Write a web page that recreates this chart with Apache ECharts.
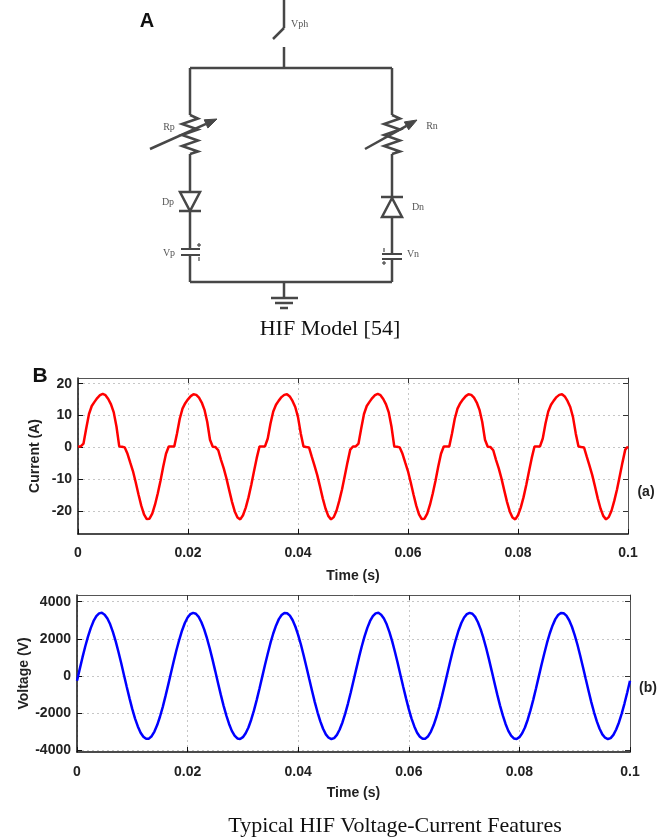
<!DOCTYPE html>
<html>
<head>
<meta charset="utf-8">
<title>HIF model and typical voltage-current features</title>
<script src="https://cdn.jsdelivr.net/npm/echarts@6/dist/echarts.min.js"></script>
<style>
  html, body { margin: 0; padding: 0; background: #fff; }
  #main { width: 671px; height: 840px; }
</style>
</head>
<body>
<div id="main"></div>
<script>
var chart = echarts.init(document.getElementById('main'));

// sample times, ms (0.5 ms grid)
var timeMs = [
  0, 0.5, 1, 1.5, 2, 2.5, 3, 3.5, 4, 4.5, 5, 5.5, 6, 6.5, 7, 7.5, 8, 8.5, 9, 9.5,
  10, 10.5, 11, 11.5, 12, 12.5, 13, 13.5, 14, 14.5, 15, 15.5, 16, 16.5, 17, 17.5, 18, 18.5, 19, 19.5,
  20, 20.5, 21, 21.5, 22, 22.5, 23, 23.5, 24, 24.5, 25, 25.5, 26, 26.5, 27, 27.5, 28, 28.5, 29, 29.5,
  30, 30.5, 31, 31.5, 32, 32.5, 33, 33.5, 34, 34.5, 35, 35.5, 36, 36.5, 37, 37.5, 38, 38.5, 39, 39.5,
  40, 40.5, 41, 41.5, 42, 42.5, 43, 43.5, 44, 44.5, 45, 45.5, 46, 46.5, 47, 47.5, 48, 48.5, 49, 49.5,
  50, 50.5, 51, 51.5, 52, 52.5, 53, 53.5, 54, 54.5, 55, 55.5, 56, 56.5, 57, 57.5, 58, 58.5, 59, 59.5,
  60, 60.5, 61, 61.5, 62, 62.5, 63, 63.5, 64, 64.5, 65, 65.5, 66, 66.5, 67, 67.5, 68, 68.5, 69, 69.5,
  70, 70.5, 71, 71.5, 72, 72.5, 73, 73.5, 74, 74.5, 75, 75.5, 76, 76.5, 77, 77.5, 78, 78.5, 79, 79.5,
  80, 80.5, 81, 81.5, 82, 82.5, 83, 83.5, 84, 84.5, 85, 85.5, 86, 86.5, 87, 87.5, 88, 88.5, 89, 89.5,
  90, 90.5, 91, 91.5, 92, 92.5, 93, 93.5, 94, 94.5, 95, 95.5, 96, 96.5, 97, 97.5, 98, 98.5, 99, 99.5,
  100
];

// fault current, A
var current = [
  // 0 - 16.5 ms
  0.3, 0.3, 1.2, 6, 10.5, 13, 14.3, 15.5, 16.4, 16.8, 16.4, 15.2, 13.5, 11, 6.5, 0.3, 0.2, 0,
  -2, -4.8, -7.5, -11, -14.8, -18.3, -21, -22.5, -22.4, -20.8, -18, -14.5, -10.5, -6, -2, 0.3,
  // 17 - 33 ms
  0.3, 0.3, 4.4, 9, 12.2, 13.9, 15.1, 16.1, 16.7, 16.5, 15.6, 14.1, 11.8, 8, 2.4, 0.2, 0.1,
  -0.9, -3.9, -6.6, -9.8, -13.5, -17.1, -20.1, -22, -22.6, -21.3, -18.9, -15.7, -11.8, -7.5, -3.3, 0.3,
  // 33.5 - 50 ms
  0.3, 0.3, 2.8, 7.5, 11.3, 13.4, 14.7, 15.8, 16.5, 16.7, 16, 14.6, 12.7, 9.5, 4.4, 0.3, 0.1, 0,
  -2.9, -5.7, -8.7, -12.3, -16, -19.2, -21.5, -22.6, -21.9, -19.9, -16.8, -13.2, -9, -4.7, -0.7, 0.3,
  // 50.5 - 66.5 ms
  0.3, 1.2, 6, 10.5, 13, 14.3, 15.5, 16.4, 16.8, 16.4, 15.2, 13.5, 11, 6.5, 0.3, 0.2, 0,
  -2, -4.8, -7.5, -11, -14.8, -18.3, -21, -22.5, -22.4, -20.8, -18, -14.5, -10.5, -6, -2, 0.3,
  // 67 - 83 ms
  0.3, 0.3, 4.4, 9, 12.2, 13.9, 15.1, 16.1, 16.7, 16.5, 15.6, 14.1, 11.8, 8, 2.4, 0.2, 0.1,
  -0.9, -3.9, -6.6, -9.8, -13.5, -17.1, -20.1, -22, -22.6, -21.3, -18.9, -15.7, -11.8, -7.5, -3.3, 0.3,
  // 83.5 - 100 ms
  0.3, 0.3, 2.8, 7.5, 11.3, 13.4, 14.7, 15.8, 16.5, 16.7, 16, 14.6, 12.7, 9.5, 4.4, 0.3, 0.1, 0,
  -2.9, -5.7, -8.7, -12.3, -16, -19.2, -21.5, -22.6, -21.9, -19.9, -16.8, -13.2, -9, -4.7, -0.7, 0.3
];

// phase voltage, V
var voltage = [
  // 0 - 16.5 ms
  -260, 380, 1010, 1600, 2130, 2590, 2960, 3220, 3370, 3400, 3300, 3090, 2780, 2360, 1860, 1290, 680, 40,
  -600, -1210, -1790, -2300, -2720, -3060, -3280, -3390, -3380, -3250, -3000, -2650, -2200, -1680, -1090, -470,
  // 17 - 33 ms
  170, 800, 1410, 1960, 2450, 2850, 3150, 3330, 3400, 3350, 3180, 2890, 2510, 2030, 1490, 890, 260,
  -380, -1010, -1600, -2130, -2590, -2960, -3220, -3370, -3400, -3300, -3090, -2780, -2360, -1860, -1290, -680,
  // 33.5 - 50 ms
  -40, 600, 1210, 1790, 2300, 2720, 3060, 3280, 3390, 3380, 3250, 3000, 2650, 2200, 1680, 1090, 470,
  -170, -800, -1410, -1960, -2450, -2850, -3150, -3330, -3400, -3350, -3180, -2890, -2510, -2030, -1490, -890, -260,
  // 50.5 - 66.5 ms
  380, 1010, 1600, 2130, 2590, 2960, 3220, 3370, 3400, 3300, 3090, 2780, 2360, 1860, 1290, 680, 40,
  -600, -1210, -1790, -2300, -2720, -3060, -3280, -3390, -3380, -3250, -3000, -2650, -2200, -1680, -1090, -470,
  // 67 - 83 ms
  170, 800, 1410, 1960, 2450, 2850, 3150, 3330, 3400, 3350, 3180, 2890, 2510, 2030, 1490, 890, 260,
  -380, -1010, -1600, -2130, -2590, -2960, -3220, -3370, -3400, -3300, -3090, -2780, -2360, -1860, -1290, -680,
  // 83.5 - 100 ms
  -40, 600, 1210, 1790, 2300, 2720, 3060, 3280, 3390, 3380, 3250, 3000, 2650, 2200, 1680, 1090, 470,
  -170, -800, -1410, -1960, -2450, -2850, -3150, -3330, -3400, -3350, -3180, -2890, -2510, -2030, -1490, -890, -260
];

var currentTicks = [-20, -10, 0, 10, 20];
var voltageTicks = [-4000, -2000, 0, 2000, 4000];

function pairs(values) {
  return timeMs.map(function (t, i) { return [t / 1000, values[i]]; });
}

var boldFont = { fontFamily: 'Liberation Sans, Arial, sans-serif', fontWeight: 'bold', fontSize: 14, color: '#222' };
var gridLine = { show: true, lineStyle: { color: '#c6c6c6', width: 1, type: [2, 3] } };
var wire = '#474747';

function plain(v) { return String(v); }

function timeAxis(grid, gap, margin) {
  return {
    gridIndex: grid, type: 'value', position: 'bottom', min: 0, max: 0.1, interval: 0.02,
    name: 'Time (s)', nameLocation: 'middle', nameGap: gap, nameTextStyle: boldFont, nameMoveOverlap: false,
    axisLine: { show: true, onZero: false, lineStyle: { color: '#111', width: 1.5 } },
    axisTick: { show: true, inside: true, length: 5, lineStyle: { color: '#111' } },
    axisLabel: Object.assign({ margin: margin, formatter: plain }, boldFont),
    splitLine: gridLine
  };
}
function topAxis(grid) {
  return {
    gridIndex: grid, type: 'value', position: 'top', min: 0, max: 0.1, interval: 0.02,
    axisLine: { show: true, onZero: false, lineStyle: { color: '#555', width: 1 } },
    axisTick: { show: true, inside: true, length: 5, lineStyle: { color: '#333' } },
    axisLabel: { show: false }, splitLine: { show: false }
  };
}
function valueAxis(grid, min, max, ticks, name, gap) {
  return {
    gridIndex: grid, type: 'value', position: 'left', min: min, max: max,
    name: name, nameLocation: 'middle', nameRotate: 90, nameGap: gap, nameTextStyle: boldFont,
    nameMoveOverlap: false,
    axisLine: { show: true, onZero: false, lineStyle: { color: '#111', width: 1.5 } },
    axisTick: { show: true, inside: true, length: 5, customValues: ticks, lineStyle: { color: '#111' } },
    axisLabel: Object.assign({ margin: 6, customValues: ticks, formatter: plain }, boldFont),
    splitLine: gridLine
  };
}
function rightAxis(grid, min, max, ticks) {
  return {
    gridIndex: grid, type: 'value', position: 'right', min: min, max: max,
    axisLine: { show: true, onZero: false, lineStyle: { color: '#555', width: 1 } },
    axisTick: { show: true, inside: true, length: 5, customValues: ticks, lineStyle: { color: '#333' } },
    axisLabel: { show: false }, splitLine: { show: false }
  };
}

// circuit helpers
function seg(x1, y1, x2, y2, w) {
  return { type: 'line', silent: true, shape: { x1: x1, y1: y1, x2: x2, y2: y2 },
    style: { stroke: wire, lineWidth: w || 2.5 } };
}
function zigzag(cx) {
  var pts = [[cx, 115]], side = 1;
  for (var y = 118.5; y < 153; y += 5.5) { pts.push([cx + 8 * side, y]); side = -side; }
  pts.push([cx, 154]);
  return { type: 'polyline', silent: true, shape: { points: pts },
    style: { stroke: wire, lineWidth: 2.5, fill: null, lineJoin: 'miter' } };
}
function arrow(x1, y1, x2, y2) {
  var dx = x2 - x1, dy = y2 - y1, len = Math.sqrt(dx * dx + dy * dy);
  var ux = dx / len, uy = dy / len, bx = x2 - 12 * ux, by = y2 - 12 * uy;
  return [
    seg(x1, y1, bx, by, 2.5),
    { type: 'polygon', silent: true,
      shape: { points: [[x2, y2], [bx - 4.5 * uy, by + 4.5 * ux], [bx + 4.5 * uy, by - 4.5 * ux]] },
      style: { fill: wire, stroke: wire, lineWidth: 1 } }
  ];
}
function tri(points) {
  return { type: 'polygon', silent: true, shape: { points: points },
    style: { fill: '#fff', stroke: wire, lineWidth: 2.5 } };
}
function txt(text, x, y, font, color, align) {
  return { type: 'text', silent: true, x: x, y: y,
    style: { text: text, font: font, fill: color, textAlign: align || 'center', textVerticalAlign: 'middle' } };
}

var smallFont = '10px "Liberation Serif", "Times New Roman", serif';
var circuit = [
  // switch and top bus
  seg(284, 0, 284, 28), seg(284, 28, 273, 39), seg(284, 47, 284, 68),
  seg(190, 68, 392, 68),
  // left branch
  seg(190, 68, 190, 115), zigzag(190), seg(190, 154, 190, 192),
  tri([[180, 192], [200, 192], [190, 211]]), seg(179, 211, 201, 211),
  seg(190, 211, 190, 249), seg(181, 249, 200, 249, 2), seg(181, 255, 200, 255, 2),
  seg(199, 243, 199, 247, 1.2), seg(197, 245, 201, 245, 1.2), seg(199, 257, 199, 261, 1.2),
  seg(190, 255, 190, 282),
  // right branch
  seg(392, 68, 392, 115), zigzag(392), seg(392, 154, 392, 197),
  seg(381, 197, 403, 197), tri([[392, 198], [382, 217], [402, 217]]),
  seg(392, 217, 392, 254), seg(382, 254, 402, 254, 2), seg(382, 259, 402, 259, 2),
  seg(384, 248, 384, 252, 1.2), seg(384, 261, 384, 265, 1.2), seg(382, 263, 386, 263, 1.2),
  seg(392, 259, 392, 282),
  // bottom bus and ground
  seg(190, 282, 392, 282), seg(284, 282, 284, 298),
  seg(271, 298, 298, 298), seg(275, 303, 293, 303), seg(280, 308, 288, 308)
]
  .concat(arrow(150, 149, 217, 119))
  .concat(arrow(365, 149, 417, 120))
  .concat([
    txt('Vph', 291, 24, smallFont, '#555', 'left'),
    txt('Rp', 169, 127, smallFont, '#555'),
    txt('Dp', 168, 202, smallFont, '#555'),
    txt('Vp', 169, 253, smallFont, '#555'),
    txt('Rn', 432, 126, smallFont, '#555'),
    txt('Dn', 418, 207, smallFont, '#555'),
    txt('Vn', 413, 254, smallFont, '#555'),
    txt('A', 147, 21, 'bold 20px "Liberation Sans", Arial, sans-serif', '#111'),
    txt('HIF Model [54]', 330, 329, '22px "Liberation Serif", "Times New Roman", serif', '#111'),
    txt('B', 40, 376, 'bold 21px "Liberation Sans", Arial, sans-serif', '#111'),
    txt('(a)', 646, 492, 'bold 14px "Liberation Sans", Arial, sans-serif', '#222'),
    txt('(b)', 648, 688, 'bold 14px "Liberation Sans", Arial, sans-serif', '#222'),
    txt('Typical HIF Voltage-Current Features', 395, 826, '22px "Liberation Serif", "Times New Roman", serif', '#111')
  ]);

var option = {
  backgroundColor: '#ffffff',
  animation: false,
  grid: [
    { left: 78, top: 378, width: 550, height: 156 },
    { left: 77, top: 595, width: 553, height: 157 }
  ],
  xAxis: [timeAxis(0, 35, 12), topAxis(0), timeAxis(1, 34, 13), topAxis(1)],
  yAxis: [
    valueAxis(0, -27.2, 21.8, currentTicks, 'Current (A)', 36),
    rightAxis(0, -27.2, 21.8, currentTicks),
    valueAxis(1, -4100, 4360, voltageTicks, 'Voltage (V)', 46),
    rightAxis(1, -4100, 4360, voltageTicks)
  ],
  graphic: circuit,
  series: [
    {
      name: 'Current', type: 'line', xAxisIndex: 0, yAxisIndex: 0,
      data: pairs(current), showSymbol: false, symbol: 'none',
      lineStyle: { color: '#ff0000', width: 2.5 }, itemStyle: { color: '#ff0000' }, z: 3
    },
    {
      name: 'Voltage', type: 'line', xAxisIndex: 2, yAxisIndex: 2,
      data: pairs(voltage), showSymbol: false, symbol: 'none',
      lineStyle: { color: '#0000ff', width: 2.5 }, itemStyle: { color: '#0000ff' }, z: 3
    }
  ]
};
chart.setOption(option);
</script>
</body>
</html>
